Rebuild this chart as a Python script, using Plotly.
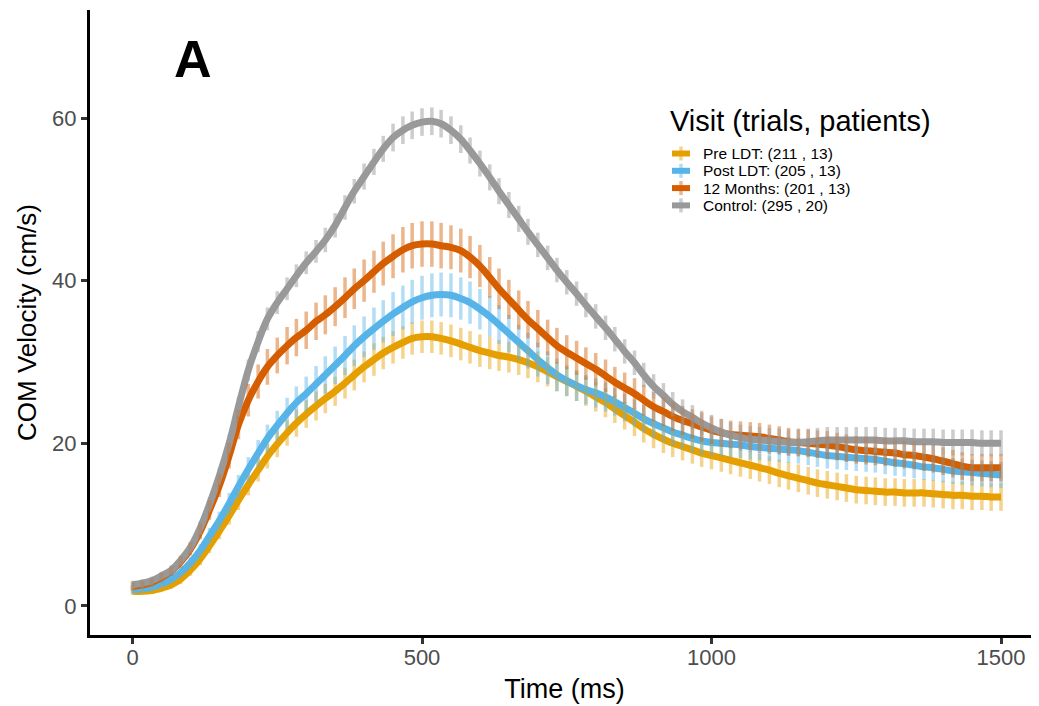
import plotly.graph_objects as go

# ---------------- data ----------------
time_ms = [0, 17, 33, 50, 67, 83, 100, 117, 133, 150,
           167, 183, 200, 217, 233, 250, 267, 283, 300, 317,
           333, 350, 367, 383, 400, 417, 433, 450, 467, 483,
           500, 517, 533, 550, 567, 583, 600, 617, 633, 650,
           667, 683, 700, 717, 733, 750, 767, 783, 800, 817,
           833, 850, 867, 883, 900, 917, 933, 950, 967, 983,
           1000, 1017, 1033, 1050, 1067, 1083, 1100, 1117, 1133, 1150,
           1167, 1183, 1200, 1217, 1233, 1250, 1267, 1283, 1300, 1317,
           1333, 1350, 1367, 1383, 1400, 1417, 1433, 1450, 1467, 1483,
           1500]

pre_ldt = [1.8, 1.8, 1.9, 2.2, 2.6, 3.3, 4.4, 5.8, 7.4, 9.2,
           11.1, 13.0, 14.9, 16.7, 18.4, 19.9, 21.3, 22.5, 23.6, 24.6,
           25.5, 26.4, 27.4, 28.4, 29.4, 30.3, 31.1, 31.8, 32.4, 32.9,
           33.1, 33.1, 32.9, 32.6, 32.2, 31.8, 31.4, 31.1, 30.8, 30.6,
           30.3, 29.9, 29.4, 28.8, 28.2, 27.6, 27.0, 26.4, 25.7, 25.0,
           24.2, 23.4, 22.6, 21.8, 21.1, 20.5, 20.0, 19.6, 19.2, 18.8,
           18.5, 18.2, 17.9, 17.6, 17.3, 17.0, 16.7, 16.3, 16.0, 15.7,
           15.4, 15.1, 14.9, 14.7, 14.5, 14.3, 14.2, 14.1, 14.0, 14.0,
           13.9, 13.9, 13.9, 13.8, 13.7, 13.6, 13.6, 13.5, 13.5, 13.4,
           13.4]
pre_ldt_se = [0.4, 0.4, 0.4, 0.5, 0.5, 0.6, 0.7, 0.8, 0.9, 1.0,
              1.1, 1.2, 1.3, 1.4, 1.5, 1.6, 1.6, 1.7, 1.7, 1.8,
              1.8, 1.8, 1.9, 1.9, 1.9, 2.0, 2.0, 2.0, 2.0, 2.0,
              2.0, 2.0, 2.0, 2.0, 2.0, 2.0, 2.0, 2.0, 1.9, 1.9,
              1.9, 1.9, 1.9, 1.8, 1.8, 1.8, 1.8, 1.8, 1.8, 1.8,
              1.7, 1.7, 1.7, 1.7, 1.7, 1.7, 1.7, 1.7, 1.7, 1.7,
              1.7, 1.7, 1.7, 1.7, 1.7, 1.7, 1.7, 1.7, 1.7, 1.7,
              1.7, 1.7, 1.7, 1.7, 1.7, 1.7, 1.7, 1.7, 1.7, 1.7,
              1.7, 1.7, 1.7, 1.7, 1.7, 1.7, 1.7, 1.7, 1.7, 1.7,
              1.7]

post_ldt = [2.0, 2.1, 2.3, 2.7, 3.3, 4.1, 5.3, 6.8, 8.6, 10.5,
            12.6, 14.7, 16.8, 18.8, 20.6, 22.2, 23.7, 25.0, 26.1, 27.3,
            28.4, 29.6, 30.8, 32.0, 33.1, 34.1, 35.0, 35.9, 36.7, 37.4,
            37.9, 38.2, 38.3, 38.2, 37.8, 37.3, 36.5, 35.6, 34.6, 33.5,
            32.4, 31.4, 30.3, 29.3, 28.4, 27.7, 27.1, 26.6, 26.2, 25.7,
            25.1, 24.4, 23.7, 23.0, 22.4, 21.9, 21.4, 21.0, 20.6, 20.3,
            20.1, 20.0, 19.9, 19.8, 19.6, 19.5, 19.4, 19.3, 19.2, 19.1,
            18.9, 18.7, 18.5, 18.4, 18.3, 18.2, 18.1, 18.0, 17.8, 17.6,
            17.5, 17.3, 17.1, 17.0, 16.8, 16.6, 16.5, 16.4, 16.3, 16.2,
            16.1]
post_ldt_se = [0.5, 0.5, 0.5, 0.5, 0.6, 0.6, 0.7, 0.8, 1.0, 1.1,
               1.3, 1.4, 1.5, 1.6, 1.7, 1.8, 1.9, 2.0, 2.1, 2.2,
               2.3, 2.3, 2.4, 2.5, 2.5, 2.6, 2.6, 2.7, 2.7, 2.7,
               2.7, 2.7, 2.7, 2.7, 2.6, 2.6, 2.5, 2.5, 2.4, 2.3,
               2.2, 2.2, 2.1, 2.0, 2.0, 1.9, 1.9, 1.8, 1.8, 1.8,
               1.7, 1.7, 1.7, 1.7, 1.7, 1.7, 1.7, 1.7, 1.7, 1.7,
               1.6, 1.6, 1.6, 1.6, 1.6, 1.6, 1.6, 1.6, 1.6, 1.6,
               1.6, 1.6, 1.6, 1.6, 1.6, 1.6, 1.6, 1.6, 1.6, 1.6,
               1.6, 1.6, 1.6, 1.6, 1.6, 1.6, 1.6, 1.6, 1.6, 1.6,
               1.6]

months_12 = [2.4, 2.6, 2.9, 3.5, 4.3, 5.4, 7.0, 9.2, 11.8, 14.8,
             18.5, 22.3, 25.3, 27.6, 29.4, 30.8, 32.0, 33.0, 33.9, 35.0,
             35.8, 36.8, 37.9, 39.0, 40.0, 41.1, 42.1, 43.0, 43.8, 44.3,
             44.5, 44.5, 44.3, 44.1, 43.7, 42.9, 41.8, 40.4, 39.0, 37.7,
             36.4, 35.2, 34.1, 33.0, 32.0, 31.2, 30.5, 29.8, 29.1, 28.3,
             27.5, 26.8, 26.1, 25.3, 24.5, 23.9, 23.3, 22.8, 22.4, 22.0,
             21.6, 21.3, 21.1, 21.0, 20.9, 20.8, 20.6, 20.4, 20.2, 20.1,
             20.0, 19.9, 19.8, 19.6, 19.4, 19.2, 19.1, 19.0, 18.9, 18.8,
             18.6, 18.5, 18.3, 18.1, 17.8, 17.5, 17.2, 17.0, 17.0, 17.0,
             17.0]
months_12_se = [0.5, 0.5, 0.5, 0.6, 0.6, 0.7, 0.8, 1.0, 1.2, 1.4,
                1.6, 1.8, 2.0, 2.1, 2.2, 2.2, 2.3, 2.3, 2.3, 2.3,
                2.4, 2.4, 2.5, 2.5, 2.6, 2.6, 2.7, 2.7, 2.8, 2.8,
                2.8, 2.8, 2.8, 2.7, 2.7, 2.6, 2.6, 2.5, 2.5, 2.4,
                2.4, 2.3, 2.3, 2.2, 2.2, 2.1, 2.1, 2.0, 2.0, 2.0,
                1.9, 1.9, 1.9, 1.9, 1.8, 1.8, 1.8, 1.8, 1.8, 1.8,
                1.7, 1.7, 1.7, 1.7, 1.7, 1.7, 1.7, 1.7, 1.7, 1.7,
                1.7, 1.7, 1.7, 1.7, 1.7, 1.7, 1.7, 1.7, 1.7, 1.7,
                1.7, 1.7, 1.7, 1.7, 1.7, 1.7, 1.7, 1.7, 1.7, 1.7,
                1.7]

control = [2.6, 2.8, 3.1, 3.7, 4.4, 5.6, 7.2, 9.6, 12.5, 16.0,
           20.0, 24.5, 29.0, 32.5, 35.3, 37.3, 39.0, 40.6, 42.2, 43.6,
           45.0, 46.8, 49.0, 51.0, 52.8, 54.6, 56.2, 57.6, 58.5, 59.1,
           59.5, 59.6, 59.3, 58.5, 57.4, 56.0, 54.4, 52.7, 51.0, 49.3,
           47.6, 46.0, 44.4, 42.8, 41.3, 39.8, 38.4, 37.0, 35.6, 34.2,
           32.8, 31.3, 29.9, 28.4, 27.0, 25.9, 24.8, 23.9, 23.2, 22.5,
           21.9, 21.4, 21.0, 20.7, 20.5, 20.4, 20.3, 20.2, 20.1, 20.1,
           20.2, 20.3, 20.4, 20.4, 20.4, 20.4, 20.4, 20.4, 20.3, 20.3,
           20.3, 20.2, 20.2, 20.2, 20.1, 20.1, 20.1, 20.1, 20.0, 20.0,
           20.0]
control_se = [0.5, 0.5, 0.5, 0.5, 0.6, 0.6, 0.7, 0.8, 0.9, 1.0,
              1.1, 1.2, 1.3, 1.3, 1.4, 1.4, 1.4, 1.4, 1.4, 1.4,
              1.5, 1.5, 1.5, 1.5, 1.6, 1.6, 1.6, 1.7, 1.7, 1.7,
              1.7, 1.7, 1.7, 1.7, 1.7, 1.6, 1.6, 1.6, 1.6, 1.6,
              1.6, 1.6, 1.5, 1.5, 1.5, 1.5, 1.5, 1.5, 1.5, 1.5,
              1.5, 1.5, 1.5, 1.5, 1.5, 1.5, 1.5, 1.5, 1.5, 1.5,
              1.6, 1.6, 1.6, 1.6, 1.6, 1.6, 1.6, 1.6, 1.6, 1.6,
              1.6, 1.6, 1.6, 1.6, 1.6, 1.6, 1.6, 1.6, 1.6, 1.6,
              1.6, 1.6, 1.6, 1.6, 1.6, 1.6, 1.6, 1.6, 1.6, 1.6,
              1.6]

legend_title = "Visit (trials, patients)"
series_names = ["Pre LDT: (211 , 13)", "Post LDT: (205 , 13)",
                "12 Months: (201 , 13)", "Control: (295 , 20)"]
series_means = [pre_ldt, post_ldt, months_12, control]
series_errs = [pre_ldt_se, post_ldt_se, months_12_se, control_se]
series_colors = ["#E69F00", "#56B4E9", "#D55E00", "#999999"]
series_err_colors = ["rgba(230,159,0,0.45)", "rgba(86,180,233,0.45)",
                     "rgba(213,94,0,0.45)", "rgba(153,153,153,0.5)"]

x_ticks = [0, 500, 1000, 1500]
y_ticks = [0, 20, 40, 60]

FONT = "Liberation Sans, Arial, Helvetica, sans-serif"

# ---------------- figure ----------------
fig = go.Figure()

for name, ys, col in zip(series_names, series_means, series_colors):
    fig.add_trace(go.Scatter(
        x=time_ms, y=ys, mode="lines", name=name, showlegend=False,
        line=dict(color=col, width=7, shape="spline"),
    ))

for name, ys, es, ecol in zip(series_names, series_means, series_errs, series_err_colors):
    fig.add_trace(go.Scatter(
        x=time_ms, y=ys, mode="markers", showlegend=False, hoverinfo="skip",
        marker=dict(size=1, color="rgba(0,0,0,0)"),
        error_y=dict(type="data", array=es, visible=True,
                     thickness=3.5, width=0, color=ecol),
    ))

# panel letter
fig.add_annotation(x=105, y=67.3, xref="x", yref="y", text="<b>A</b>",
                   showarrow=False, font=dict(size=52, color="black", family=FONT))

# legend (drawn manually to match ggplot's compact key spacing)
# plot area in page pixels: x 90..1039, y 10..635
def px_x(X):
    return (X - 90) / 949.0

def px_y(Y):
    return (635 - Y) / 625.0

fig.add_annotation(x=px_x(668), y=px_y(121), xref="paper", yref="paper",
                   xanchor="left", yanchor="middle", showarrow=False,
                   text=legend_title, font=dict(size=29, color="black", family=FONT))
item_rows = [153.5, 170.8, 188.1, 205.4]
for name, col, ecol, Y in zip(series_names, series_colors, series_err_colors, item_rows):
    fig.add_shape(type="line", xref="paper", yref="paper",
                  x0=px_x(672), x1=px_x(690), y0=px_y(Y), y1=px_y(Y),
                  line=dict(color=col, width=6))
    fig.add_shape(type="line", xref="paper", yref="paper",
                  x0=px_x(681), x1=px_x(681), y0=px_y(Y - 7), y1=px_y(Y + 7),
                  line=dict(color=ecol, width=3.5))
    fig.add_annotation(x=px_x(701), y=px_y(Y), xref="paper", yref="paper",
                       xanchor="left", yanchor="middle", showarrow=False,
                       text=name, font=dict(size=15.5, color="black", family=FONT))

# page body has an 8px margin in the browser -> size the figure accordingly
fig.update_layout(
    width=1031, height=698,
    paper_bgcolor="white", plot_bgcolor="white",
    margin=dict(l=82, r=0, t=2, b=71),
    font=dict(family=FONT, color="black"),
    showlegend=False,
    xaxis=dict(
        range=[-73.4, 1565.6], tickvals=x_ticks, ticktext=[str(v) for v in x_ticks],
        showgrid=False, zeroline=False, showline=True, linecolor="black", linewidth=3,
        ticks="outside", ticklen=6, tickwidth=3, tickcolor="#333333",
        tickfont=dict(size=22, color="#4D4D4D", family=FONT),
        ticklabelstandoff=-5,
        title=dict(text="Time (ms)", font=dict(size=27, color="black", family=FONT), standoff=10),
        automargin=False,
    ),
    yaxis=dict(
        range=[-3.57, 73.28], tickvals=y_ticks, ticktext=[str(v) for v in y_ticks],
        showgrid=False, zeroline=False, showline=True, linecolor="black", linewidth=3,
        ticks="outside", ticklen=6, tickwidth=3, tickcolor="#333333",
        tickfont=dict(size=22, color="#4D4D4D", family=FONT),
        title=dict(text="COM Velocity (cm/s)", font=dict(size=26, color="black", family=FONT), standoff=9),
        automargin=False,
    ),
)

fig.write_html("out.html")
